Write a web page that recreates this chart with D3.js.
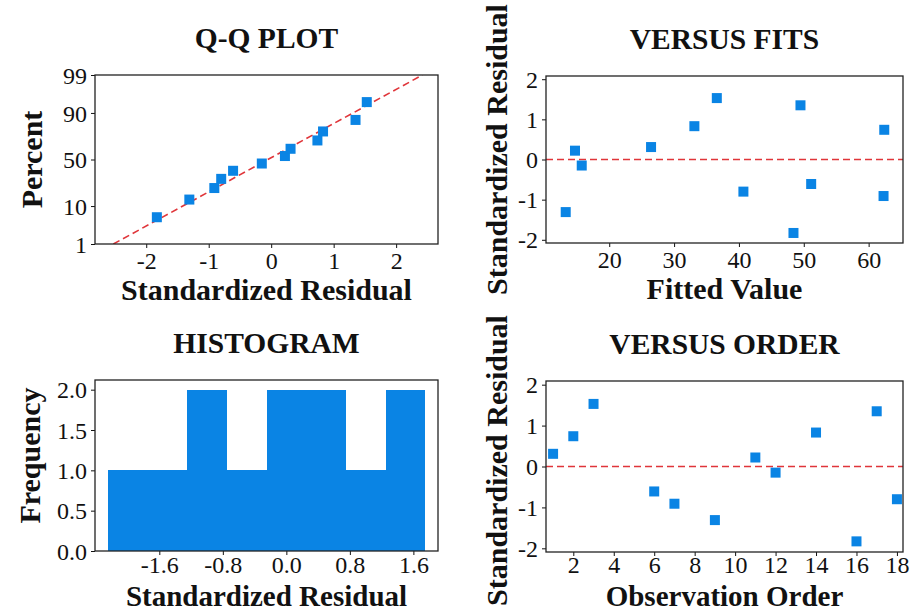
<!DOCTYPE html>
<html>
<head>
<meta charset="utf-8">
<script src="https://cdn.jsdelivr.net/npm/d3@7"></script>
<style>
  html, body { margin: 0; padding: 0; background: #ffffff; }
  svg { display: block; }
  .tick text { font-family: "Liberation Serif", "Times New Roman", serif; font-size: 24px; fill: #111; }
  .tick line { stroke: #111; stroke-width: 1; }
  .title, .alabel { font-family: "Liberation Serif", "Times New Roman", serif; font-weight: bold; fill: #111; }
</style>
</head>
<body>
<svg id="chart" width="910" height="612"></svg>
<script>
// ---- data -------------------------------------------------------------
const obsOrder   = [1, 2, 3, 6, 7, 9, 11, 12, 14, 16, 17, 18];
const stdResid   = [0.31, 0.74, 1.53, -0.61, -0.91, -1.31, 0.22, -0.15, 0.83, -1.83, 1.35, -0.80];
const fittedVals = [26.45, 62.41, 36.59, 51.14, 62.30, 13.29, 14.72, 15.76, 33.13, 48.41, 49.49, 40.69];
// normal-probability plotting positions (percent) of the sorted residuals
const qqPercent  = [5.6, 13.5, 21.6, 29.7, 37.8, 45.6, 53.8, 61.6, 70.0, 78.0, 86.2, 94.3];

const qqXTicks    = [-2, -1, 0, 1, 2];
const pctTicks    = [1, 10, 50, 90, 99];
const residTicks  = [-2, -1, 0, 1, 2];
const fitTicks    = [20, 30, 40, 50, 60];
const histEdges   = [-2.25, -1.75, -1.25, -0.75, -0.25, 0.25, 0.75, 1.25, 1.75];
const histXTicks  = [-1.6, -0.8, 0.0, 0.8, 1.6];
const freqTicks   = [0.0, 0.5, 1.0, 1.5, 2.0];
const orderTicks  = [2, 4, 6, 8, 10, 12, 14, 16, 18];

// ---- helpers ----------------------------------------------------------
const BLUE = "#0a84e4";
const RED = "#e0353a";
const svg = d3.select("#chart");

// inverse standard normal CDF (Acklam)
function probit(p) {
  const a = [-3.969683028665376e+01, 2.209460984245205e+02, -2.759285104469687e+02, 1.383577518672690e+02, -3.066479806614716e+01, 2.506628277459239e+00];
  const b = [-5.447609879822406e+01, 1.615858368580409e+02, -1.556989798598866e+02, 6.680131188771972e+01, -1.328068155288572e+01];
  const c = [-7.784894002430293e-03, -3.223964580411365e-01, -2.400758277161838e+00, -2.549732539343734e+00, 4.374664141464968e+00, 2.938163982698783e+00];
  const d = [7.784695709041462e-03, 3.224671290700398e-01, 2.445134137142996e+00, 3.754408661907416e+00];
  const pl = 0.02425, ph = 1 - pl;
  let q, r;
  if (p < pl) {
    q = Math.sqrt(-2 * Math.log(p));
    return (((((c[0]*q+c[1])*q+c[2])*q+c[3])*q+c[4])*q+c[5]) / ((((d[0]*q+d[1])*q+d[2])*q+d[3])*q+1);
  } else if (p <= ph) {
    q = p - 0.5; r = q * q;
    return (((((a[0]*r+a[1])*r+a[2])*r+a[3])*r+a[4])*r+a[5])*q / (((((b[0]*r+b[1])*r+b[2])*r+b[3])*r+b[4])*r+1);
  } else {
    q = Math.sqrt(-2 * Math.log(1 - p));
    return -(((((c[0]*q+c[1])*q+c[2])*q+c[3])*q+c[4])*q+c[5]) / ((((d[0]*q+d[1])*q+d[2])*q+d[3])*q+1);
  }
}

let clipId = 0;
function panel(box, opts) {
  const g = svg.append("g");
  const id = "clip" + (clipId++);
  g.append("clipPath").attr("id", id).append("rect")
    .attr("x", box.x0).attr("y", box.y0)
    .attr("width", box.x1 - box.x0).attr("height", box.y1 - box.y0);
  const plot = g.append("g").attr("clip-path", `url(#${id})`);

  const xAxis = d3.axisBottom(opts.x).tickValues(opts.xTicks).tickFormat(opts.xFormat)
    .tickSizeOuter(0).tickSizeInner(4).tickPadding(4);
  g.append("g").attr("transform", `translate(0,${box.y1})`).call(xAxis)
    .call(s => s.select(".domain").remove())
    .selectAll("text").attr("dy", opts.xDy || "0.7em");

  const yAxis = d3.axisLeft(opts.y).tickValues(opts.yTicks).tickFormat(opts.yFormat)
    .tickSizeOuter(0).tickSizeInner(4).tickPadding(4);
  g.append("g").attr("transform", `translate(${box.x0},0)`).call(yAxis)
    .call(s => s.select(".domain").remove())
    .selectAll("text").attr("dy", "0.34em");

  const cx = (box.x0 + box.x1) / 2;
  g.append("text").attr("class", "title").attr("x", cx).attr("y", box.y0 - 27)
    .attr("text-anchor", "middle").attr("font-size", 29.5).text(opts.title);
  g.append("text").attr("class", "alabel").attr("x", cx).attr("y", box.y1 + (opts.xLabelDy || 56))
    .attr("text-anchor", "middle").attr("font-size", opts.xLabelSize || 30).text(opts.xLabel);
  g.append("text").attr("class", "alabel")
    .attr("transform", `translate(${opts.yLabelX},${(box.y0 + box.y1) / 2 + (opts.yLabelDy || 0)}) rotate(-90)`)
    .attr("text-anchor", "middle").attr("font-size", 30).text(opts.yLabel);

  g.frame = () => g.append("rect")
    .attr("x", box.x0).attr("y", box.y0)
    .attr("width", box.x1 - box.x0).attr("height", box.y1 - box.y0)
    .attr("fill", "none").attr("stroke", "#222").attr("stroke-width", 1.3);
  g.plot = plot;
  return g;
}

function squares(sel, data, fx, fy) {
  sel.selectAll("rect.pt").data(data).join("rect").attr("class", "pt")
    .attr("x", d => fx(d) - 5).attr("y", d => fy(d) - 5)
    .attr("width", 10).attr("height", 10).attr("fill", BLUE);
}

// ---- Q-Q plot ---------------------------------------------------------
{
  const box = { x0: 95, x1: 438, y0: 75, y1: 244 };
  const x = d3.scaleLinear().domain([-2.82, 2.67]).range([box.x0, box.x1]);
  const y = d3.scaleLinear().domain([probit(0.01), probit(0.99)]).range([box.y1, box.y0]);
  const g = panel(box, {
    x, y, xTicks: qqXTicks, xFormat: d => String(d),
    yTicks: pctTicks.map(p => probit(p / 100)), yFormat: (d, i) => String(pctTicks[i]),
    title: "Q-Q PLOT", xLabel: "Standardized Residual", yLabel: "Percent", yLabelX: 42
  });
  const sorted = stdResid.slice().sort(d3.ascending);
  const mu = d3.mean(stdResid), sd = d3.deviation(stdResid);
  const ends = [0.01, 0.99];
  g.plot.append("line")
    .attr("x1", x(mu + sd * probit(ends[0]))).attr("y1", y(probit(ends[0])))
    .attr("x2", x(mu + sd * probit(ends[1]))).attr("y2", y(probit(ends[1])))
    .attr("stroke", RED).attr("stroke-width", 1.6).attr("stroke-dasharray", "7,4");
  squares(g.plot, sorted.map((v, i) => [v, qqPercent[i]]), d => x(d[0]), d => y(probit(d[1] / 100)));
  g.frame();
}

// ---- Versus fits ------------------------------------------------------
{
  const box = { x0: 546, x1: 903, y0: 76, y1: 243 };
  const x = d3.scaleLinear().domain([10.25, 65.3]).range([box.x0, box.x1]);
  const y = d3.scaleLinear().domain([-2.08, 2.08]).range([box.y1, box.y0]);
  const g = panel(box, {
    x, y, xTicks: fitTicks, xFormat: d => String(d),
    yTicks: residTicks, yFormat: d => String(d),
    title: "VERSUS FITS", xLabel: "Fitted Value", yLabel: "Standardized Residual", yLabelX: 507, yLabelDy: -10
  });
  g.plot.append("line").attr("x1", box.x0).attr("x2", box.x1).attr("y1", y(0)).attr("y2", y(0))
    .attr("stroke", RED).attr("stroke-width", 1.6).attr("stroke-dasharray", "7,4");
  squares(g.plot, d3.range(stdResid.length), i => x(fittedVals[i]), i => y(stdResid[i]));
  g.frame();
}

// ---- Histogram --------------------------------------------------------
{
  const box = { x0: 95, x1: 438, y0: 380, y1: 551 };
  const x = d3.scaleLinear().domain([-2.41, 1.91]).range([box.x0, box.x1]);
  const y = d3.scaleLinear().domain([0, 2.12]).range([box.y1, box.y0]);
  const g = panel(box, {
    x, y, xTicks: histXTicks, xFormat: d => d.toFixed(1),
    yTicks: freqTicks, yFormat: d => d.toFixed(1),
    title: "HISTOGRAM", xLabel: "Standardized Residual", yLabel: "Frequency", yLabelX: 40, yLabelDy: -10,
    xDy: "0.6em", xLabelDy: 54.5, xLabelSize: 29
  });
  const bins = d3.bin().domain([histEdges[0], histEdges[histEdges.length - 1]])
    .thresholds(histEdges.slice(1, -1))(stdResid);
  g.plot.selectAll("rect.bar").data(bins).join("rect").attr("class", "bar")
    .attr("x", d => Math.round(x(d.x0)))
    .attr("width", d => Math.round(x(d.x1)) - Math.round(x(d.x0)))
    .attr("y", d => y(d.length)).attr("height", d => y(0) - y(d.length))
    .attr("fill", BLUE).attr("shape-rendering", "crispEdges");
  g.frame();
}

// ---- Versus order -----------------------------------------------------
{
  const box = { x0: 546, x1: 903, y0: 381, y1: 552 };
  const x = d3.scaleLinear().domain([0.65, 18.3]).range([box.x0, box.x1]);
  const y = d3.scaleLinear().domain([-2.09, 2.09]).range([box.y1, box.y0]);
  const g = panel(box, {
    x, y, xTicks: orderTicks, xFormat: d => String(d),
    yTicks: residTicks, yFormat: d => String(d),
    title: "VERSUS ORDER", xLabel: "Observation Order", yLabel: "Standardized Residual", yLabelX: 507, yLabelDy: -6,
    xDy: "0.56em", xLabelDy: 53.5, xLabelSize: 29
  });
  g.plot.append("line").attr("x1", box.x0).attr("x2", box.x1).attr("y1", y(0)).attr("y2", y(0))
    .attr("stroke", RED).attr("stroke-width", 1.6).attr("stroke-dasharray", "7,4");
  squares(g.plot, d3.range(stdResid.length), i => x(obsOrder[i]), i => y(stdResid[i]));
  g.frame();
}
</script>
</body>
</html>
